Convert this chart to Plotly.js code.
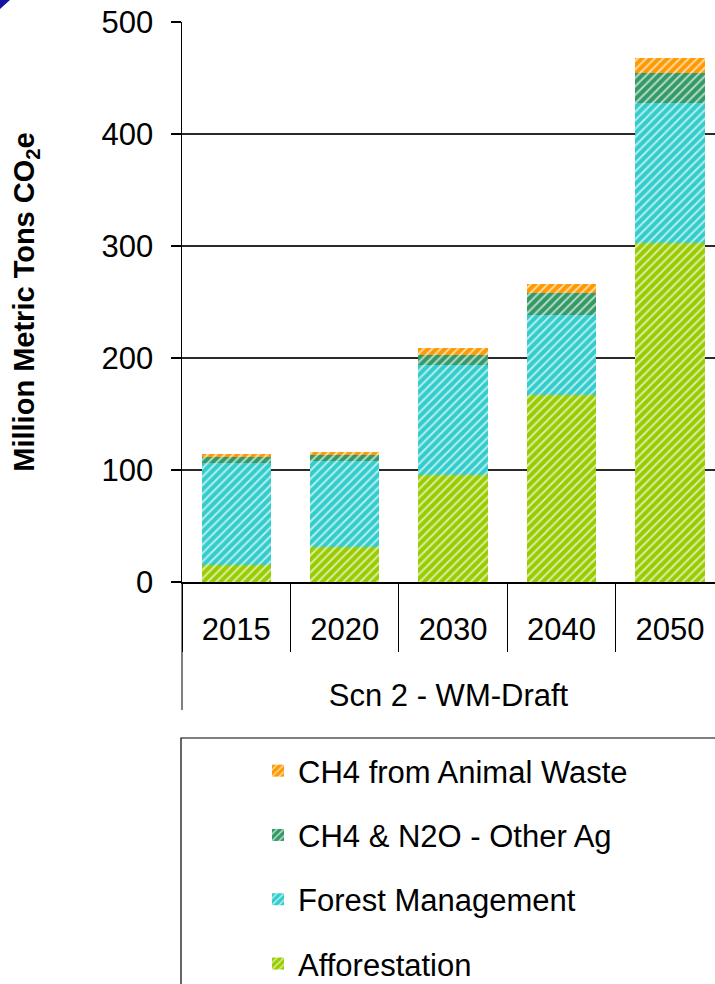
<!DOCTYPE html>
<html>
<head>
<meta charset="utf-8">
<script src="https://cdn.plot.ly/plotly-3.0.1.min.js"></script>
<style>
  html, body { margin: 0; padding: 0; background: #fff; overflow: hidden; }
  #chart { width: 715px; height: 984px; }
</style>
</head>
<body>
<div id="chart"></div>
<script>
// ---- data ----
const years = ['2015', '2020', '2030', '2040', '2050'];
const groupLabel = 'Scn 2 - WM-Draft';
const afforestation = [15, 31, 95.5, 167, 302.7];
const forestManagement = [91.5, 77, 98, 71.5, 125.3];
const otherAg = [5.1, 5.4, 9, 19.5, 26.7];
const animalWaste = [2.7, 2.7, 6.5, 8.5, 13.3];
const seriesNames = ['Afforestation', 'Forest Management', 'CH4 & N2O - Other Ag', 'CH4 from Animal Waste'];
const yTicks = [0, 100, 200, 300, 400, 500];

// ---- styles ----
const colors = ['#99CC00', '#33CCCC', '#339966', '#FF9900'];
const FONT = 'Liberation Sans, Arial, sans-serif';

function mk(name, vals, color, i) {
  return {
    type: 'bar',
    name: name,
    x: years,
    y: vals,
    legendgroup: 'g' + i,
    legendrank: 10 - i,
    marker: {
      color: color,
      line: { width: 0 },
      pattern: { shape: '/', size: 6, solidity: 0.32, fgcolor: 'rgba(255,255,255,0.65)', bgcolor: color }
    },
    hoverinfo: 'x+y+name'
  };
}

const data = [
  mk(seriesNames[0], afforestation, colors[0], 0),
  mk(seriesNames[1], forestManagement, colors[1], 1),
  mk(seriesNames[2], otherAg, colors[2], 2),
  mk(seriesNames[3], animalWaste, colors[3], 3)
];

const L = 182, T = 22, W = 533, H = 560, FH = 984;
function px2x(px) { return (px - L) / W; }
function px2y(py) { return (T + H - py) / H; }

const layout = {
  width: 715,
  height: FH,
  margin: { l: L, r: 0, t: T, b: FH - T - H, pad: 0 },
  paper_bgcolor: '#fff',
  plot_bgcolor: '#fff',
  barmode: 'stack',
  bargap: 0.36,
  font: { family: FONT, size: 31, color: '#000' },
  showlegend: true,
  legend: {
    xref: 'paper', yref: 'container',
    x: px2x(258), xanchor: 'left',
    y: (FH - 744) / FH, yanchor: 'top',
    traceorder: 'grouped',
    tracegroupgap: 21,
    font: { family: FONT, size: 31, color: '#000' },
    bgcolor: 'rgba(0,0,0,0)',
    borderwidth: 0
  },
  xaxis: {
    type: 'category',
    range: [-0.5, 4.415],
    tickson: 'boundaries',
    ticks: 'outside',
    ticklen: 68,
    tickwidth: 1,
    tickcolor: '#000',
    showline: true,
    linecolor: '#000',
    linewidth: 1.5,
    showgrid: false,
    zeroline: false,
    tickfont: { family: FONT, size: 31, color: '#000' },
    ticklabelstandoff: 19,
    automargin: false,
    title: { text: groupLabel, font: { family: FONT, size: 31, color: '#000' }, standoff: 38 },
    fixedrange: true
  },
  yaxis: {
    range: [0, 500],
    tickvals: yTicks,
    ticktext: yTicks.map(String),
    ticks: 'outside',
    ticklen: 10,
    tickwidth: 1.5,
    tickcolor: '#000',
    showline: true,
    linecolor: '#000',
    linewidth: 1.5,
    showgrid: true,
    gridcolor: '#2a2a2a',
    gridwidth: 1.5,
    zeroline: false,
    tickfont: { family: FONT, size: 31, color: '#000' },
    ticklabelstandoff: 11,
    automargin: false,
    title: { text: '<b>Million Metric Tons CO<sub>2</sub>e</b>', font: { family: FONT, size: 29, color: '#000' }, standoff: 58 },
    fixedrange: true
  },
  shapes: [
    // outer divider line on the left of the category group
    { type: 'line', xref: 'paper', yref: 'paper', x0: 0, x1: 0, y0: 0, y1: px2y(710), line: { color: '#000', width: 1 } },
    // legend frame
    { type: 'rect', xref: 'paper', yref: 'paper', x0: px2x(181), x1: px2x(730), y0: px2y(738), y1: px2y(1000), line: { color: '#000', width: 1.2 }, fillcolor: 'rgba(0,0,0,0)', layer: 'below' },
    // blue corner mark
    { type: 'path', xref: 'paper', yref: 'paper', path: 'M ' + px2x(0) + ',' + px2y(0) + ' L ' + px2x(10) + ',' + px2y(0) + ' L ' + px2x(0) + ',' + px2y(9) + ' Z', fillcolor: '#1414a0', line: { width: 0 } }
  ]
};

Plotly.newPlot('chart', data, layout, { displayModeBar: false, staticPlot: true });
</script>
</body>
</html>
